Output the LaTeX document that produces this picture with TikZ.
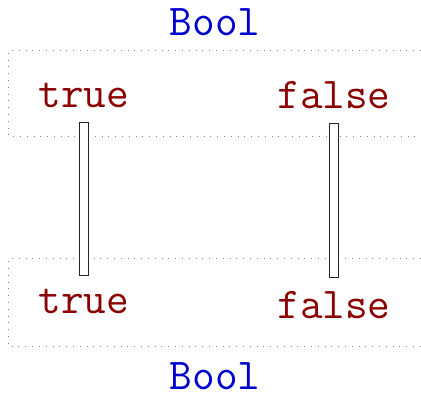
\documentclass[tikz,border=0pt]{standalone}
\usepackage{fontspec}
\definecolor{typeblue}{RGB}{0,0,204}
\definecolor{ctorred}{RGB}{139,0,0}
\begin{document}
\begin{tikzpicture}[x=1pt,y=-1pt,
  lbl/.style={font=\fontsize{44}{50}\selectfont\ttfamily, inner sep=0pt, anchor=base},
  tyname/.style={lbl, outer sep=0pt, text=typeblue},
  ctor/.style={lbl, outer ysep=14pt, text=ctorred},
  frame/.style={draw=gray, line width=1pt, dash pattern=on 1pt off 5.8pt},
  eqline/.style={draw=black!85, line width=1pt, double=white, double distance=8pt,
    line cap=rect, shorten <=5pt, shorten >=5pt}]
\useasboundingbox (0,0) rectangle (421,393);
% open-ended dotted frames around each set of constructors
\draw[frame] (421,50.5) -- (8.5,50.5) -- (8.5,136.5) -- (421,136.5);
\draw[frame] (421,259) -- (8.5,259) -- (8.5,346.5) -- (421,346.5);
% type names
\node[tyname] (top)    at (215,36)  {Bool};
\node[tyname] (bottom) at (215,389) {Bool};
% constructors
\node[ctor] (t1) at (84,108)  {true};
\node[ctor] (f1) at (334,109) {false};
\node[ctor] (t2) at (84,314)  {true};
\node[ctor] (f2) at (334,319) {false};
% identity links
\draw[eqline] (t1.south) -- (t2.north);
\draw[eqline] (f1.south) -- (f2.north);
\end{tikzpicture}
\end{document}
